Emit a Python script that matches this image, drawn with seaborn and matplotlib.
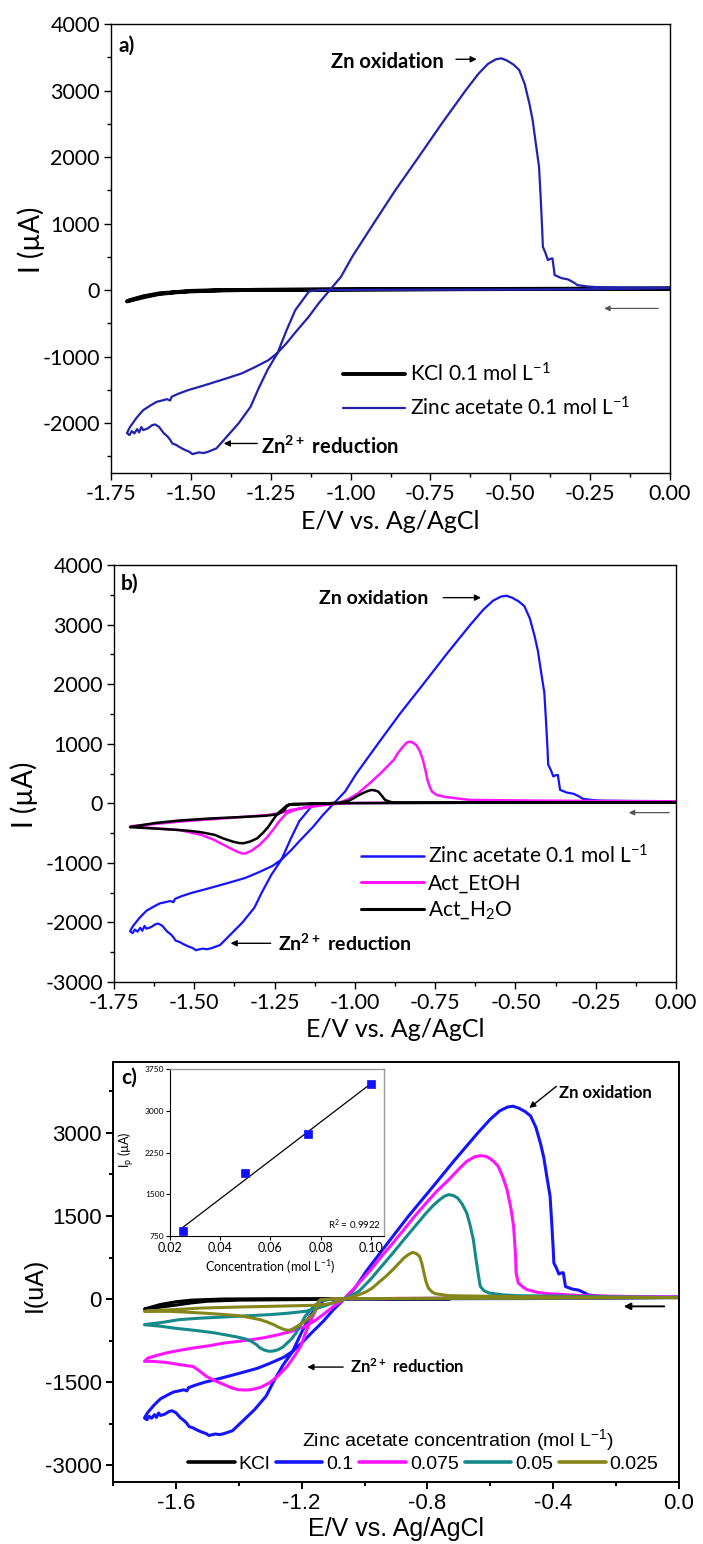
import numpy as np
import pandas as pd
import matplotlib
matplotlib.use("Agg")
import matplotlib.pyplot as plt
from matplotlib.ticker import AutoMinorLocator, FormatStrFormatter
from matplotlib.lines import Line2D
import seaborn as sns

# ---------------- data ----------------
# Zinc acetate 0.1 mol/L CV loop (used in a, b, c)
E_zn01 = [0.00, -0.20, -0.50, -0.80, -1.00, -1.10, -1.13, -1.15, -1.173, -1.20, -1.229, -1.26, -1.29, -1.313,
          -1.35, -1.397, -1.42, -1.446, -1.46, -1.475, -1.495, -1.505, -1.52, -1.537, -1.545, -1.558, -1.565,
          -1.572, -1.585, -1.60, -1.612, -1.621, -1.635, -1.649, -1.655, -1.662, -1.668, -1.677, -1.685, -1.692,
          -1.70, -1.695, -1.69, -1.67, -1.649, -1.625, -1.607, -1.59, -1.575, -1.565, -1.56, -1.54, -1.509,
          -1.47, -1.439, -1.39, -1.341, -1.30, -1.257, -1.23, -1.201, -1.17, -1.131, -1.10, -1.065, -1.03,
          -0.995, -0.928, -0.86, -0.787, -0.715, -0.64, -0.60, -0.57, -0.545, -0.528, -0.51, -0.49, -0.472,
          -0.455, -0.44, -0.43, -0.42, -0.41, -0.405, -0.40, -0.398, -0.39, -0.382, -0.375, -0.368, -0.363,
          -0.361, -0.34, -0.319, -0.30, -0.29, -0.26, -0.234, -0.15, 0.00]
I_zn01 = [30, 15, 8, 5, 3, 0, -20, -150, -300, -600, -950, -1200, -1500, -1754,
          -2000, -2256, -2380, -2431, -2450, -2440, -2466, -2430, -2400, -2356, -2330, -2306, -2250,
          -2206, -2150, -2055, -2020, -2030, -2080, -2105, -2060, -2140, -2090, -2155, -2120, -2180,
          -2150, -2100, -2055, -1920, -1804, -1730, -1680, -1660, -1640, -1660, -1604, -1560, -1505,
          -1450, -1404, -1330, -1253, -1160, -1053, -950, -802, -620, -401, -200, 0, 200,
          500, 1000, 1500, 2000, 2500, 3000, 3250, 3400, 3470, 3484, 3450, 3390, 3308,
          3100, 2800, 2556, 2200, 1855, 1400, 900, 651, 560, 451, 470, 476, 300,
          225, 180, 160, 110, 75, 55, 45, 40, 35]

# KCl 0.1 mol/L (panel a)
E_kcl_a = [0.00, -0.50, -1.00, -1.30, -1.40, -1.50, -1.55, -1.60, -1.65, -1.70,
           -1.69, -1.65, -1.60, -1.50, -1.40, -1.00, 0.00]
I_kcl_a = [20, 15, 8, 3, -5, -20, -35, -60, -110, -170,
           -150, -95, -50, -12, 0, 10, 25]

# Act_EtOH (panel b)
E_etoh = [0.00, -0.40, -0.80, -1.00, -1.10, -1.15, -1.18, -1.213, -1.235, -1.255, -1.275, -1.297, -1.32,
          -1.339, -1.35, -1.367, -1.39, -1.408, -1.44, -1.478, -1.52, -1.548, -1.617, -1.66, -1.70,
          -1.69, -1.62, -1.548, -1.48, -1.408, -1.34, -1.269, -1.23, -1.20, -1.13, -1.053, -1.02, -0.99,
          -0.955, -0.92, -0.879, -0.865, -0.85, -0.838, -0.83, -0.82, -0.809, -0.798, -0.788, -0.78,
          -0.774, -0.767, -0.76, -0.745, -0.725, -0.68, -0.641, -0.432, 0.00]
I_etoh = [25, 20, 10, 5, -20, -60, -100, -168, -300, -448, -580, -699, -790,
          -839, -845, -811, -750, -699, -610, -531, -480, -448, -420, -405, -392,
          -380, -345, -308, -280, -252, -225, -196, -160, -112, -56, 0, 70, 168,
          330, 503, 727, 850, 951, 1020, 1035, 1020, 979, 880, 727, 550,
          392, 280, 196, 140, 112, 80, 56, 45, 30]

# Act_H2O (panel b)
E_h2o = [0.00, -0.50, -0.88, -1.00, -1.15, -1.19, -1.205, -1.213, -1.225, -1.24, -1.255, -1.269, -1.285,
         -1.304, -1.325, -1.346, -1.36, -1.38, -1.41, -1.436, -1.48, -1.52, -1.56, -1.62, -1.70,
         -1.69, -1.62, -1.548, -1.45, -1.35, -1.28, -1.24, -1.22, -1.213, -1.205, -1.13, -1.046, -1.02,
         -1.004, -0.99, -0.976, -0.96, -0.948, -0.937, -0.927, -0.915, -0.906, -0.89, -0.879, -0.50, 0.00]
I_h2o = [15, 10, 5, 3, -5, -10, -20, -40, -100, -168, -280, -391, -490,
         -587, -640, -671, -668, -643, -590, -531, -485, -460, -445, -425, -400,
         -390, -330, -290, -255, -230, -210, -185, -120, -60, -28, -11, 11, 40,
         84, 130, 168, 205, 224, 215, 196, 120, 56, 25, 11, 8, 12]

# Panel c: zinc acetate 0.075
E_c075 = [0.00, -0.50, -0.90, -1.10, -1.139, -1.155, -1.175, -1.19, -1.203, -1.225, -1.246, -1.275, -1.303,
          -1.33, -1.36, -1.38, -1.403, -1.425, -1.446, -1.475, -1.503, -1.525, -1.546, -1.56, -1.575,
          -1.589, -1.61, -1.632, -1.674, -1.70,
          -1.689, -1.66, -1.632, -1.59, -1.546, -1.50, -1.446, -1.40, -1.36, -1.32, -1.274, -1.23, -1.189,
          -1.16, -1.132, -1.10, -1.065, -1.04, -1.018, -0.98, -0.946, -0.91, -0.875, -0.84, -0.804, -0.77,
          -0.732, -0.70, -0.675, -0.65, -0.632, -0.615, -0.604, -0.59, -0.575, -0.56, -0.547, -0.535,
          -0.526, -0.52, -0.518, -0.511, -0.495, -0.483, -0.45, -0.418, -0.304, 0.00]
I_c075 = [30, 20, 10, 0, -20, -200, -434, -650, -855, -1050, -1217, -1390, -1518,
          -1595, -1639, -1645, -1639, -1600, -1548, -1480, -1398, -1300, -1217, -1210, -1195,
          -1187, -1165, -1145, -1127, -1127,
          -1066, -1020, -976, -930, -886, -850, -795, -765, -735, -700, -645, -580, -494,
          -400, -283, -140, 0, 150, 289, 530, 771, 1010, 1253, 1500, 1735, 1950,
          2157, 2350, 2488, 2570, 2590, 2580, 2548, 2490, 2398, 2200, 1976, 1650,
          1313, 800, 470, 289, 210, 169, 120, 96, 60, 30]

# Panel c: zinc acetate 0.05
E_c05 = [0.00, -0.50, -0.90, -1.10, -1.14, -1.161, -1.175, -1.189, -1.205, -1.218, -1.232, -1.246, -1.26,
         -1.275, -1.29, -1.303, -1.318, -1.332, -1.345, -1.36, -1.38, -1.403, -1.44, -1.475, -1.52, -1.56,
         -1.60, -1.646, -1.70,
         -1.69, -1.64, -1.589, -1.52, -1.446, -1.38, -1.303, -1.25, -1.189, -1.16, -1.132, -1.10, -1.065,
         -1.04, -1.018, -0.98, -0.946, -0.91, -0.875, -0.84, -0.804, -0.78, -0.761, -0.745, -0.732, -0.718,
         -0.704, -0.69, -0.675, -0.665, -0.654, -0.645, -0.639, -0.632, -0.62, -0.604, -0.56, -0.518, 0.00]
I_c05 = [25, 15, 8, 0, -30, -133, -220, -313, -480, -614, -720, -795, -870,
         -916, -940, -946, -925, -886, -820, -765, -720, -690, -650, -614, -580, -554,
         -530, -494, -464,
         -455, -420, -373, -345, -325, -305, -283, -260, -223, -185, -133, -70, 0,
         75, 139, 360, 590, 830, 1072, 1310, 1554, 1700, 1795, 1860, 1886, 1870,
         1825, 1720, 1554, 1350, 1072, 700, 470, 229, 150, 108, 75, 60, 25]

# Panel c: zinc acetate 0.025
E_c025 = [0.00, -0.50, -0.90, -1.10, -1.14, -1.146, -1.152, -1.161, -1.175, -1.189, -1.205, -1.218, -1.23,
          -1.239, -1.25, -1.26, -1.275, -1.289, -1.31, -1.332, -1.37, -1.403, -1.46, -1.518, -1.617, -1.70,
          -1.69, -1.60, -1.518, -1.40, -1.303, -1.161, -1.12, -1.103, -1.08, -1.065, -1.04, -1.018, -0.995,
          -0.975, -0.955, -0.932, -0.91, -0.89, -0.875, -0.861, -0.847, -0.835, -0.825, -0.818, -0.811,
          -0.805, -0.797, -0.786, -0.775, -0.732, -0.50, 0.00]
I_c025 = [25, 15, 10, 5, -10, -42, -150, -253, -330, -404, -460, -506, -545,
          -566, -560, -542, -505, -464, -415, -373, -330, -301, -275, -253, -223, -223,
          -215, -190, -163, -145, -133, -114, -95, -72, -30, 0, 40, 78, 130,
          199, 300, 410, 530, 651, 740, 801, 843, 820, 771, 650, 470,
          320, 199, 130, 96, 60, 40, 25]

# Panel c: KCl
E_kcl_c = [-0.73, -1.00, -1.30, -1.45, -1.55, -1.60, -1.65, -1.70,
           -1.68, -1.64, -1.60, -1.55, -1.50, -1.40, -1.20, -1.00, -0.73]
I_kcl_c = [10, 8, 5, 0, -20, -50, -100, -181,
           -170, -140, -110, -70, -40, -20, -10, -5, -5]

# Inset: peak current vs concentration
conc = [0.025, 0.05, 0.075, 0.10]
ip = [840, 1878, 2580, 3480]

legend_c_labels = ["KCl", "0.1", "0.075", "0.05", "0.025"]

# ---------------- style ----------------
sns.set_theme(style="ticks")
plt.rcParams["font.family"] = ["Lato", "DejaVu Sans"]
plt.rcParams["mathtext.default"] = "regular"
plt.rcParams["axes.unicode_minus"] = False
plt.rcParams["axes.edgecolor"] = "black"
plt.rcParams["xtick.color"] = "black"
plt.rcParams["ytick.color"] = "black"
plt.rcParams["text.color"] = "black"
plt.rcParams["axes.labelcolor"] = "black"

BLUE_A = "#2222b0"
BLUE = "#1414ff"
MAG = "#ff14ff"
TEAL = "#168a8a"
OLIVE = "#85851a"

fig = plt.figure(figsize=(7.03, 15.44), dpi=100)
W, H = 703.0, 1544.0


def add_ax(l, r, t, b):
    return fig.add_axes([l / W, 1 - b / H, (r - l) / W, (b - t) / H])


def style_axis(ax, lw=1.0, labelsize=15, family=None):
    for s in ax.spines.values():
        s.set_linewidth(lw)
        s.set_color("black")
    ax.tick_params(which="major", direction="out", length=5, width=lw, labelsize=labelsize, pad=3,
                   top=False, right=False)
    ax.tick_params(which="minor", direction="out", length=3, width=lw, top=False, right=False)
    if family:
        for lab in ax.get_xticklabels() + ax.get_yticklabels():
            lab.set_family(family)


def cv(ax, E, I, color, lw, label=None):
    sns.lineplot(x=E, y=I, sort=False, estimator=None, color=color, lw=lw, ax=ax, label=label,
                 legend=False)


def arrow(ax, x0, y0, x1, y1, color="black", lw=1.0, ms=9):
    ax.annotate("", xy=(x1, y1), xytext=(x0, y0),
                arrowprops=dict(arrowstyle="-|>", color=color, lw=lw, mutation_scale=ms,
                                shrinkA=0, shrinkB=0))


# ---------------- panel a ----------------
axa = add_ax(111, 670, 24, 473)
cv(axa, E_kcl_a, I_kcl_a, "black", 2.8)
cv(axa, E_zn01, I_zn01, BLUE_A, 1.6)
axa.set_xlim(-1.75, 0.0)
axa.set_ylim(-2750, 4000)
axa.set_xticks([-1.75, -1.5, -1.25, -1.0, -0.75, -0.5, -0.25, 0.0])
axa.set_yticks([-2000, -1000, 0, 1000, 2000, 3000, 4000])
axa.xaxis.set_minor_locator(AutoMinorLocator(2))
axa.yaxis.set_minor_locator(AutoMinorLocator(2))
axa.xaxis.set_major_formatter(FormatStrFormatter("%.2f"))
style_axis(axa, 1.0, 15.5)
axa.set_xlabel("E/V vs. Ag/AgCl", fontsize=18)
axa.set_ylabel("I (µA)", fontsize=20)
axa.xaxis.set_label_coords(0.5, -0.082)
axa.yaxis.set_label_coords(-0.118, 0.52)
ha = [Line2D([], [], color="black", lw=2.8), Line2D([], [], color=BLUE_A, lw=1.6)]
axa.legend(ha, [r"KCl 0.1 mol L$^{-1}$", r"Zinc acetate 0.1 mol L$^{-1}$"], loc="center left",
           bbox_to_anchor=(0.415, 0.183), frameon=False, fontsize=15, handlelength=3.0,
           handletextpad=0.2, labelspacing=0.55, borderpad=0, borderaxespad=0)
axa.text(-1.725, 3680, "a)", fontsize=15, fontweight="bold", va="center")
axa.text(-1.06, 3434, "Zn oxidation", fontsize=14.5, fontweight="bold", va="center")
arrow(axa, -0.67, 3470, -0.605, 3470)
axa.text(-1.28, -2356, r"Zn$^{2+}$ reduction", fontsize=14.5, fontweight="bold", va="center")
arrow(axa, -1.292, -2306, -1.397, -2306)
arrow(axa, -0.037, -276, -0.206, -276, color="#555555", lw=0.9, ms=8)

# ---------------- panel b ----------------
axb = add_ax(114, 676, 565, 982)
cv(axb, E_zn01, I_zn01, BLUE, 1.6)
cv(axb, E_etoh, I_etoh, MAG, 1.8)
cv(axb, E_h2o, I_h2o, "black", 1.8)
axb.set_xlim(-1.75, 0.0)
axb.set_ylim(-3000, 4000)
axb.set_xticks([-1.75, -1.5, -1.25, -1.0, -0.75, -0.5, -0.25, 0.0])
axb.set_yticks([-3000, -2000, -1000, 0, 1000, 2000, 3000, 4000])
axb.xaxis.set_minor_locator(AutoMinorLocator(2))
axb.yaxis.set_minor_locator(AutoMinorLocator(2))
axb.xaxis.set_major_formatter(FormatStrFormatter("%.2f"))
style_axis(axb, 1.0, 15.5)
axb.set_xlabel("E/V vs. Ag/AgCl", fontsize=18)
axb.set_ylabel("I (µA)", fontsize=20)
axb.xaxis.set_label_coords(0.5, -0.086)
axb.yaxis.set_label_coords(-0.135, 0.45)
hb = [Line2D([], [], color=BLUE, lw=1.8), Line2D([], [], color=MAG, lw=2.2),
      Line2D([], [], color="black", lw=2.2)]
axb.legend(hb, [r"Zinc acetate 0.1 mol L$^{-1}$", "Act_EtOH", r"Act_H$_2$O"], loc="center left",
           bbox_to_anchor=(0.44, 0.2385), frameon=False, fontsize=15, handlelength=3.0,
           handletextpad=0.2, labelspacing=0.3, borderpad=0, borderaxespad=0)
axb.text(-1.73, 3692, "b)", fontsize=15, fontweight="bold", va="center")
axb.text(-1.113, 3441, "Zn oxidation", fontsize=14, fontweight="bold", va="center")
arrow(axb, -0.725, 3452, -0.607, 3452)
axb.text(-1.238, -2350, r"Zn$^{2+}$ reduction", fontsize=14, fontweight="bold", va="center")
arrow(axb, -1.262, -2350, -1.387, -2350)
arrow(axb, -0.021, -157, -0.147, -157, color="#555555", lw=0.9, ms=8)

# ---------------- panel c ----------------
ARIAL = "Liberation Sans"
axc = add_ax(113, 679, 1062, 1482)
cv(axc, E_kcl_c, I_kcl_c, "black", 2.2)
cv(axc, E_zn01, I_zn01, BLUE, 2.2)
cv(axc, E_c075, I_c075, MAG, 2.2)
cv(axc, E_c05, I_c05, TEAL, 2.2)
cv(axc, E_c025, I_c025, OLIVE, 2.2)
axc.set_xlim(-1.8, 0.0)
axc.set_ylim(-3307, 4283)
axc.set_xticks([-1.6, -1.2, -0.8, -0.4, 0.0])
axc.set_yticks([-3000, -1500, 0, 1500, 3000])
axc.xaxis.set_minor_locator(AutoMinorLocator(2))
axc.yaxis.set_minor_locator(AutoMinorLocator(2))
axc.xaxis.set_major_formatter(FormatStrFormatter("%.1f"))
style_axis(axc, 1.4, 16, ARIAL)
axc.set_xlabel("E/V vs. Ag/AgCl", fontsize=18, family=ARIAL)
axc.set_ylabel("I(uA)", fontsize=18, family=ARIAL)
axc.xaxis.set_label_coords(0.5, -0.083)
axc.yaxis.set_label_coords(-0.117, 0.47)
hc = [Line2D([], [], color=c, lw=2.6) for c in ["black", BLUE, MAG, TEAL, OLIVE]]
axc.legend(hc, legend_c_labels, loc="center", bbox_to_anchor=(0.548, 0.043), ncol=5, frameon=False,
           prop={"family": ARIAL, "size": 14}, handlelength=2.4, handletextpad=0.2,
           columnspacing=0.3, borderpad=0, borderaxespad=0)
axc.text(0.609, 0.1, r"Zinc acetate concentration (mol L$^{-1}$)", transform=axc.transAxes,
         ha="center", va="center", fontsize=14, family=ARIAL)
axc.text(-1.775, 3996, "c)", fontsize=15, fontweight="bold", va="center")
axc.text(-0.383, 3723, "Zn oxidation", fontsize=12, fontweight="bold", va="center")
arrow(axc, -0.39, 3843, -0.476, 3452)
axc.text(-1.046, -1217, r"Zn$^{2+}$ reduction", fontsize=12, fontweight="bold", va="center")
arrow(axc, -1.068, -1230, -1.182, -1230)
arrow(axc, -0.047, -133, -0.176, -133, color="black", lw=1.4, ms=10)

# ---------------- inset ----------------
axi = add_ax(170, 384, 1069, 1236)
sns.regplot(x=conc, y=ip, ci=None, scatter=False, truncate=True, ax=axi,
            line_kws=dict(color="black", lw=0.9))
sns.scatterplot(x=conc, y=ip, marker="s", s=40, color="#1010ff", edgecolor="#1010ff", ax=axi, zorder=3)
axi.set_xlim(0.02, 0.1052)
axi.set_ylim(750, 3750)
axi.set_xticks([0.02, 0.04, 0.06, 0.08, 0.10])
axi.set_yticks([750, 1500, 2250, 3000, 3750])
axi.xaxis.set_major_formatter(FormatStrFormatter("%.2f"))
for s in ["left", "bottom"]:
    axi.spines[s].set_color("black")
    axi.spines[s].set_linewidth(0.8)
for s in ["top", "right"]:
    axi.spines[s].set_color("#999999")
    axi.spines[s].set_linewidth(1.0)
axi.tick_params(axis="x", direction="out", length=3, width=0.8, labelsize=9, pad=1)
axi.tick_params(axis="y", direction="out", length=3, width=0.8, labelsize=6, pad=1)
axi.set_xlabel(r"Concentration (mol L$^{-1}$)", fontsize=9)
axi.set_ylabel(r"I$_p$ (µA)", fontsize=9)
axi.xaxis.set_label_coords(0.47, -0.13)
axi.yaxis.set_label_coords(-0.157, 0.515)
axi.text(0.104, 948, r"R$^2$ = 0.9922", ha="right", va="center", fontsize=7)

fig.savefig("out.png", dpi=100)
